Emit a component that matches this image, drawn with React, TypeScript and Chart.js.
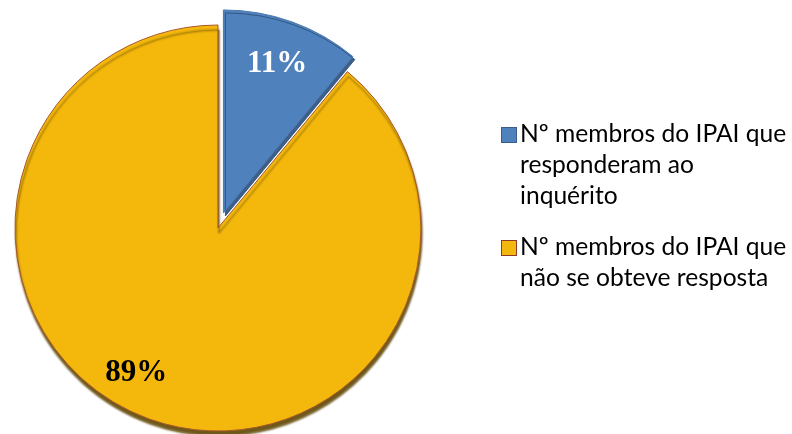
import React, { useEffect, useRef } from "react";
import { Chart, registerables } from "chart.js";

Chart.register(...registerables);

const categories = [
  "Nº membros do IPAI que responderam ao inquérito",
  "Nº membros do IPAI que não se obteve resposta",
];
const legendLines = [
  ["Nº membros do IPAI que", "responderam ao", "inquérito"],
  ["Nº membros do IPAI que", "não se obteve resposta"],
];
const values = [11, 89];
const percentLabels = ["11%", "89%"];
const sliceColors = ["#4F81BD", "#F4B80C"];
const sliceBorders = ["#4A77AE", "#A8582A"];
const sliceShadows = ["rgba(50,85,130,0.95)", "rgba(95,70,0,0.9)"];
const legendBorders = ["#385D8A", "#8E3B2C"];
const labelColors = ["#FFFFFF", "#000000"];
const explode = [16, 0];

const arcDrawPlugin = {
  id: "explodedArcs",
  beforeDatasetDraw(chart: any, args: any) {
    const ctx = chart.ctx;
    const arcs = args.meta.data;
    for (let i = arcs.length - 1; i >= 0; i--) {
      const arc = arcs[i];
      const mid = (arc.startAngle + arc.endAngle) / 2;
      const e = explode[i] || 0;
      ctx.save();
      ctx.shadowColor = sliceShadows[i];
      ctx.shadowBlur = e ? 0 : 2;
      ctx.shadowOffsetX = e ? 2 : 1;
      ctx.shadowOffsetY = e ? 3 : 5;
      ctx.translate(Math.cos(mid) * e, Math.sin(mid) * e);
      arc.draw(ctx);
      ctx.restore();
    }
    return false;
  },
};

const labelPlugin = {
  id: "pctLabels",
  afterDatasetsDraw(chart: any) {
    const ctx = chart.ctx;
    const meta = chart.getDatasetMeta(0);
    const tweaks = [
      { dAngle: 0, frac: 0.78 },
      { dAngle: (9.6 * Math.PI) / 180, frac: 0.82 },
    ];
    meta.data.forEach((arc: any, i: number) => {
      const midReal = (arc.startAngle + arc.endAngle) / 2;
      const mid = midReal + tweaks[i].dAngle;
      const r = arc.outerRadius * tweaks[i].frac;
      const e = explode[i] || 0;
      const cx = arc.x + Math.cos(midReal) * e;
      const cy = arc.y + Math.sin(midReal) * e;
      ctx.save();
      ctx.font = "bold 31px 'Liberation Serif', 'Times New Roman', serif";
      ctx.fillStyle = labelColors[i];
      ctx.textAlign = "center";
      ctx.textBaseline = "middle";
      ctx.fillText(percentLabels[i], cx + Math.cos(mid) * r, cy + Math.sin(mid) * r);
      ctx.restore();
    });
  },
};

export default function App() {
  const ref = useRef<HTMLCanvasElement>(null);
  useEffect(() => {
    if (!ref.current) return;
    const chart = new Chart(ref.current, {
      type: "pie",
      data: {
        labels: categories,
        datasets: [
          {
            data: values,
            backgroundColor: sliceColors,
            borderColor: sliceBorders,
            borderWidth: 1,
          },
        ],
      },
      options: {
        animation: false,
        responsive: false,
        radius: 203,
        layout: { padding: { left: 0, right: 356, top: 22, bottom: 0 } },
        plugins: {
          legend: { display: false },
          tooltip: { enabled: false },
        },
      } as any,
      plugins: [arcDrawPlugin, labelPlugin],
    });
    return () => chart.destroy();
  }, []);

  return (
    <div style={{ position: "absolute", left: 0, top: 0, width: 792, height: 434, background: "#fff", overflow: "hidden" }}>
      <canvas ref={ref} width={792} height={434} style={{ position: "absolute", left: 0, top: 0 }} />
      <div
        style={{
          position: "absolute",
          left: 501,
          top: 118,
          fontFamily: "Lato, 'Open Sans', sans-serif",
          fontSize: 24.6,
          lineHeight: "30.8px",
          color: "#000",
        }}
      >
        {legendLines.map((lines, i) => (
          <div key={i} style={{ position: "relative", marginBottom: i === 0 ? 21 : 0 }}>
            <span
              style={{
                position: "absolute",
                left: 0,
                top: 9,
                width: 14,
                height: 14,
                background: sliceColors[i],
                border: `1px solid ${legendBorders[i]}`,
              }}
            />
            <div style={{ marginLeft: 19, whiteSpace: "nowrap" }}>
              {lines.map((l, j) => (
                <div key={j}>{l}</div>
              ))}
            </div>
          </div>
        ))}
      </div>
    </div>
  );
}
